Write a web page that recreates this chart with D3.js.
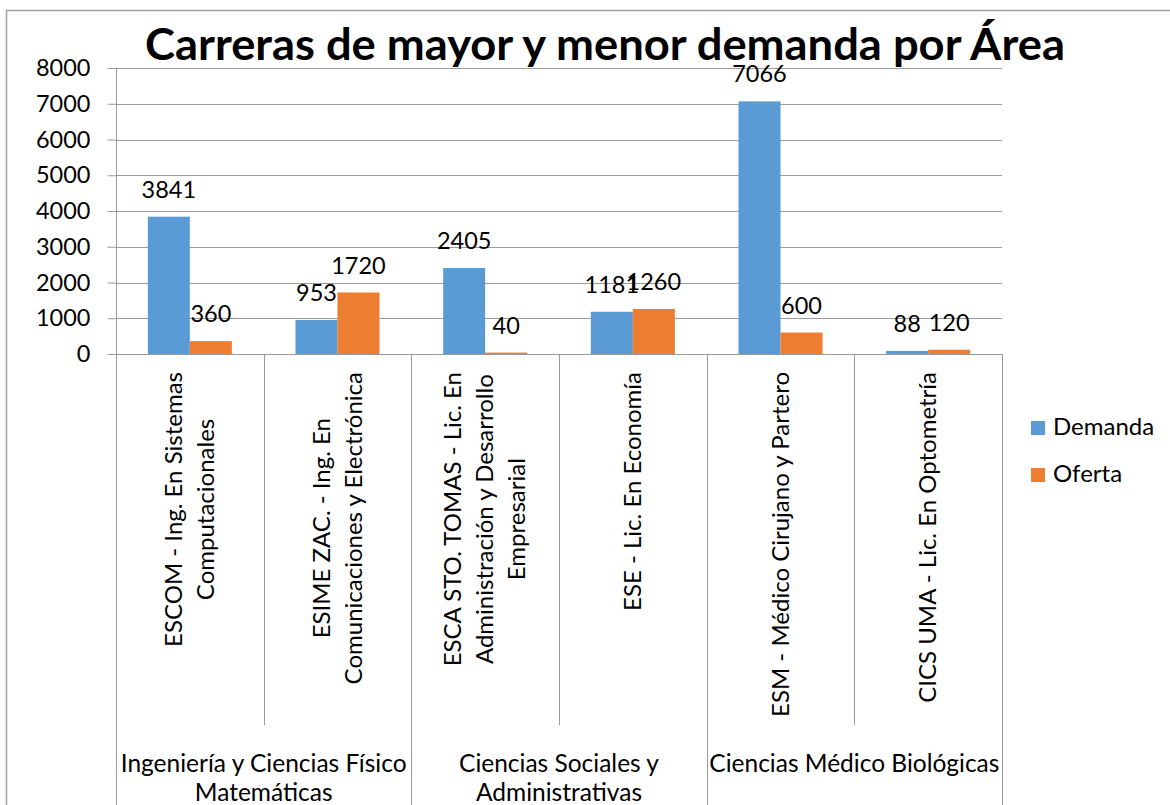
<!DOCTYPE html>
<html>
<head>
<meta charset="utf-8">
<script src="https://cdn.jsdelivr.net/npm/d3@7"></script>
<style>
  body { margin: 0; background: #fff; }
  svg { display: block; font-family: Lato, "Open Sans", sans-serif; }
</style>
</head>
<body>
<svg id="chart" width="1170" height="805"></svg>
<script>
'use strict'

// data
var carreras = [
  ["ESCOM - Ing. En Sistemas", "Computacionales"],
  ["ESIME ZAC. - Ing. En", "Comunicaciones y Electrónica"],
  ["ESCA STO. TOMAS - Lic. En", "Administración y Desarrollo", "Empresarial"],
  ["ESE - Lic. En Economía"],
  ["ESM - Médico Cirujano y Partero"],
  ["CICS UMA - Lic. En Optometría"]
];
var areas = [
  ["Ingeniería y Ciencias Físico", "Matemáticas"],
  ["Ciencias Sociales y", "Administrativas"],
  ["Ciencias Médico Biológicas"]
];
var areaOf = [0, 0, 1, 1, 2, 2];
var series = ["Demanda", "Oferta"];
var demanda = [3841, 953, 2405, 1181, 7066, 88];
var oferta = [360, 1720, 40, 1260, 600, 120];
var yTicks = [0, 1000, 2000, 3000, 4000, 5000, 6000, 7000, 8000];
var colors = ["#5B9BD5", "#ED7D31"];

var svg = d3.select("#chart"),
    plotL = 116, plotR = 1002, plotT = 68, plotB = 354,
    gridColor = "#9a9a9a";

var rows = carreras.map((c, i) => ({ idx: i, values: [demanda[i], oferta[i]] }));

var x0 = d3.scaleBand().domain(d3.range(carreras.length)).range([plotL, plotR]).padding(0);
var bw = x0.bandwidth();
var x1 = d3.scaleBand().domain(series).range([bw * 0.2155, bw * (1 - 0.2155)]);
var y = d3.scaleLinear().domain([0, 8000]).range([plotB, plotT]);
var color = d3.scaleOrdinal().domain(series).range(colors);

// outer chart frame (top and left edges visible)
svg.append("path")
    .attr("d", "M6.5,805 V10.5 H1170")
    .attr("fill", "none")
    .attr("stroke", "#a0a0a0")
    .attr("stroke-width", 1.5);

// title
svg.append("text")
    .attr("x", 605).attr("y", 60)
    .attr("text-anchor", "middle")
    .attr("font-weight", "bold")
    .attr("font-size", 44)
    .attr("textLength", 920)
    .attr("lengthAdjust", "spacingAndGlyphs")
    .text("Carreras de mayor y menor demanda por Área");

// gridlines
svg.append("g").selectAll("line")
  .data(yTicks)
  .enter().append("line")
    .attr("x1", plotL).attr("x2", plotR)
    .attr("y1", d => Math.round(y(d)) + 0.5)
    .attr("y2", d => Math.round(y(d)) + 0.5)
    .attr("stroke", gridColor);

// y axis
var yAxis = d3.axisLeft(y).tickValues(yTicks).tickFormat(d3.format("d")).tickSize(9).tickPadding(17);
var gy = svg.append("g").attr("transform", "translate(" + (plotL + 0.5) + ",0)").call(yAxis);
gy.select(".domain").attr("stroke", gridColor).attr("d", "M0," + plotT + "V" + plotB);
gy.selectAll(".tick line").attr("stroke", gridColor);
gy.selectAll(".tick text").attr("font-size", 23.5).attr("fill", "#000")
    .attr("font-family", "Lato, 'Open Sans', sans-serif");

// category divider lines below the axis
var edges = d3.range(carreras.length + 1);
svg.append("g").selectAll("line")
  .data(edges)
  .enter().append("line")
    .attr("x1", d => Math.round(plotL + d * bw) + 0.5)
    .attr("x2", d => Math.round(plotL + d * bw) + 0.5)
    .attr("y1", plotB)
    .attr("y2", d => (d === 0 || d === carreras.length || areaOf[d] !== areaOf[d - 1]) ? 805 : 725)
    .attr("stroke", gridColor);

// bars
var groups = svg.append("g").selectAll("g")
  .data(rows)
  .enter().append("g")
    .attr("transform", d => "translate(" + x0(d.idx) + ",0)");

groups.selectAll("rect")
  .data(d => d.values.map((v, k) => ({ key: series[k], value: v })))
  .enter().append("rect")
    .attr("x", d => x1(d.key))
    .attr("width", x1.bandwidth())
    .attr("y", d => y(d.value))
    .attr("height", d => plotB - y(d.value))
    .attr("fill", d => color(d.key));

groups.selectAll("text")
  .data(d => d.values.map((v, k) => ({ key: series[k], value: v })))
  .enter().append("text")
    .attr("x", d => x1(d.key) + x1.bandwidth() / 2)
    .attr("y", d => y(d.value) - 19)
    .attr("text-anchor", "middle")
    .attr("font-size", 23.5)
    .text(d => d.value);

// rotated category labels
var catLabels = svg.append("g").selectAll("g")
  .data(carreras)
  .enter().append("g");

catLabels.each(function(lines, i) {
  var g = d3.select(this);
  var cx = x0(i) + bw / 2;
  var texts = g.selectAll("text")
    .data(lines)
    .enter().append("text")
      .attr("text-anchor", "middle")
      .attr("font-size", 24)
      .text(d => d);
  var maxLen = d3.max(texts.nodes(), n => n.getComputedTextLength());
  var cy = 372 + maxLen / 2;
  texts.attr("transform", (d, k) => {
    var lx = cx + (k - (lines.length - 1) / 2) * 32 + 8;
    return "translate(" + lx + "," + cy + ") rotate(-90)";
  });
});

// area labels
svg.append("g").selectAll("text")
  .data(areas)
  .enter().append("text")
    .attr("text-anchor", "middle")
    .attr("font-size", 24.5)
    .attr("transform", (d, i) => {
      var idx = areaOf.map((a, j) => a === i ? j : -1).filter(j => j >= 0);
      var cx = (x0(idx[0]) + x0(idx[idx.length - 1]) + bw) / 2;
      return "translate(" + cx + ",772)";
    })
    .each(function(lines) {
      d3.select(this).selectAll("tspan")
        .data(lines)
        .enter().append("tspan")
          .attr("x", 0)
          .attr("dy", (d, k) => k === 0 ? 0 : 29)
          .text(d => d);
    });

// legend
var legend = svg.append("g").selectAll("g")
  .data(series)
  .enter().append("g")
    .attr("transform", (d, i) => "translate(1031," + (421 + i * 47) + ")");

legend.append("rect")
    .attr("width", 14).attr("height", 14)
    .attr("fill", d => color(d));

legend.append("text")
    .attr("x", 22).attr("y", 14)
    .attr("font-size", 24)
    .text(d => d);
</script>
</body>
</html>
